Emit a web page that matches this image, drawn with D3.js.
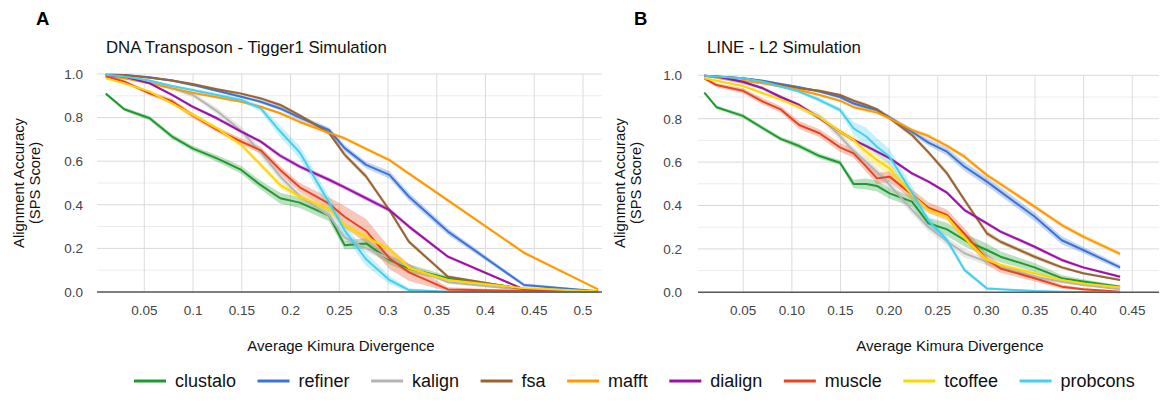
<!DOCTYPE html>
<html>
<head>
<meta charset="utf-8">
<script src="https://cdn.jsdelivr.net/npm/d3@7"></script>
<style>
  body { margin: 0; background: #fff; }
  svg { display: block; font-family: Arial, "Liberation Sans", sans-serif; }
</style>
</head>
<body>
<svg id="chart" width="1162" height="402"></svg>
<script>
// methods, in legend order
const methods = ['clustalo', 'refiner', 'kalign', 'fsa', 'mafft', 'dialign', 'muscle', 'tcoffee', 'probcons'];
const colors = ['#1f9a2f', '#3c74d6', '#b5b5b5', '#9a6431', '#ff9900', '#9b12a6', '#e8441f', '#ffd600', '#45cff0'];

const yTicks = [0, 0.2, 0.4, 0.6, 0.8, 1.0];
const yTickLabels = ['0.0', '0.2', '0.4', '0.6', '0.8', '1.0'];
const yGrid = [0.1, 0.2, 0.3, 0.4, 0.5, 0.6, 0.7, 0.8, 0.9, 1.0];

// ---- panel A : DNA Transposon - Tigger1
const aTicks = [0.05, 0.1, 0.15, 0.2, 0.25, 0.3, 0.35, 0.4, 0.45, 0.5];
const aTickLabels = ['0.05', '0.1', '0.15', '0.2', '0.25', '0.3', '0.35', '0.4', '0.45', '0.5'];
const aX = [0.011, 0.03, 0.056, 0.079, 0.1, 0.125, 0.15, 0.17, 0.19, 0.21, 0.24, 0.256, 0.278, 0.302, 0.322, 0.362, 0.44, 0.516];

const aClustalo = [0.91, 0.838, 0.797, 0.713, 0.659, 0.613, 0.56, 0.49, 0.43, 0.41, 0.35, 0.215, 0.223, 0.147, 0.108, 0.063, 0.015, 0.003];
const aRefiner  = [0.997, 0.995, 0.985, 0.97, 0.95, 0.923, 0.896, 0.873, 0.842, 0.80, 0.743, 0.66, 0.583, 0.537, 0.437, 0.277, 0.032, 0.004];
const aKalign   = [0.997, 0.99, 0.965, 0.934, 0.905, 0.83, 0.74, 0.64, 0.53, 0.44, 0.35, 0.25, 0.2, 0.155, 0.115, 0.045, 0.01, 0.002];
const aFsa      = [0.997, 0.995, 0.983, 0.97, 0.954, 0.93, 0.91, 0.888, 0.858, 0.81, 0.73, 0.63, 0.53, 0.375, 0.23, 0.07, 0.012, 0.002];
const aMafft    = [0.988, 0.98, 0.957, 0.934, 0.914, 0.893, 0.873, 0.85, 0.82, 0.78, 0.73, 0.705, 0.657, 0.605, 0.543, 0.42, 0.18, 0.012];
const aDialign  = [0.995, 0.988, 0.957, 0.904, 0.85, 0.797, 0.736, 0.69, 0.625, 0.575, 0.515, 0.48, 0.43, 0.376, 0.30, 0.162, 0.012, 0.004];
const aMuscle   = [0.99, 0.965, 0.911, 0.875, 0.81, 0.745, 0.69, 0.65, 0.56, 0.48, 0.405, 0.345, 0.28, 0.155, 0.09, 0.012, 0.004, 0.001];
const aTcoffee  = [0.98, 0.957, 0.919, 0.865, 0.812, 0.751, 0.675, 0.583, 0.49, 0.438, 0.38, 0.306, 0.253, 0.195, 0.11, 0.055, 0.017, 0.003];
const aProbcons = [0.997, 0.988, 0.97, 0.945, 0.927, 0.904, 0.881, 0.842, 0.736, 0.64, 0.41, 0.283, 0.15, 0.055, 0.009, 0.001, 0.0, 0.0];

// half width of the shaded band
const aClustaloErr = [0.005, 0.008, 0.01, 0.012, 0.012, 0.015, 0.018, 0.02, 0.025, 0.025, 0.025, 0.02, 0.025, 0.02, 0.02, 0.01, 0.005, 0.002];
const aRefinerErr  = [0.002, 0.003, 0.004, 0.005, 0.005, 0.006, 0.006, 0.008, 0.01, 0.012, 0.012, 0.015, 0.015, 0.018, 0.018, 0.015, 0.008, 0.002];
const aKalignErr   = [0.003, 0.005, 0.008, 0.01, 0.012, 0.015, 0.02, 0.02, 0.02, 0.02, 0.02, 0.02, 0.018, 0.015, 0.012, 0.008, 0.004, 0.002];
const aFsaErr      = [0.002, 0.003, 0.004, 0.005, 0.005, 0.006, 0.006, 0.006, 0.008, 0.008, 0.01, 0.012, 0.012, 0.012, 0.01, 0.008, 0.004, 0.002];
const aMafftErr    = [0.003, 0.004, 0.005, 0.005, 0.005, 0.006, 0.006, 0.006, 0.007, 0.008, 0.008, 0.008, 0.008, 0.008, 0.008, 0.008, 0.008, 0.004];
const aDialignErr  = [0.003, 0.004, 0.005, 0.006, 0.007, 0.008, 0.008, 0.008, 0.01, 0.01, 0.01, 0.01, 0.01, 0.01, 0.01, 0.008, 0.004, 0.002];
const aMuscleErr   = [0.005, 0.008, 0.01, 0.012, 0.012, 0.012, 0.015, 0.015, 0.018, 0.02, 0.03, 0.05, 0.055, 0.05, 0.04, 0.01, 0.004, 0.002];
const aTcoffeeErr  = [0.004, 0.005, 0.006, 0.008, 0.01, 0.01, 0.012, 0.012, 0.015, 0.015, 0.015, 0.015, 0.015, 0.012, 0.01, 0.008, 0.004, 0.002];
const aProbconsErr = [0.002, 0.003, 0.004, 0.005, 0.006, 0.008, 0.01, 0.015, 0.025, 0.03, 0.03, 0.03, 0.03, 0.02, 0.008, 0.003, 0.001, 0.001];

// ---- panel B : LINE - L2
const bTicks = [0.05, 0.1, 0.15, 0.2, 0.25, 0.3, 0.35, 0.4, 0.45];
const bTickLabels = ['0.05', '0.10', '0.15', '0.20', '0.25', '0.30', '0.35', '0.40', '0.45'];
const bX = [0.0105, 0.023, 0.05, 0.0707, 0.089, 0.108, 0.129, 0.15, 0.164, 0.177, 0.188, 0.201, 0.224, 0.241, 0.26, 0.278, 0.301, 0.315, 0.35, 0.378, 0.4, 0.438];

const bClustalo = [0.92, 0.853, 0.813, 0.756, 0.707, 0.674, 0.628, 0.597, 0.499, 0.499, 0.49, 0.456, 0.418, 0.318, 0.29, 0.241, 0.195, 0.164, 0.115, 0.065, 0.05, 0.026];
const bRefiner  = [0.998, 0.995, 0.986, 0.975, 0.96, 0.945, 0.925, 0.9, 0.87, 0.853, 0.84, 0.806, 0.74, 0.69, 0.648, 0.579, 0.51, 0.464, 0.349, 0.24, 0.195, 0.115];
const bKalign   = [0.998, 0.99, 0.966, 0.94, 0.9, 0.855, 0.81, 0.72, 0.65, 0.6, 0.555, 0.495, 0.38, 0.3, 0.235, 0.18, 0.14, 0.118, 0.072, 0.049, 0.034, 0.014];
const bFsa      = [0.998, 0.995, 0.986, 0.972, 0.955, 0.94, 0.929, 0.909, 0.883, 0.863, 0.843, 0.802, 0.725, 0.645, 0.548, 0.425, 0.272, 0.233, 0.164, 0.115, 0.088, 0.057];
const bMafft    = [0.997, 0.99, 0.975, 0.963, 0.948, 0.932, 0.909, 0.883, 0.853, 0.84, 0.828, 0.802, 0.748, 0.72, 0.675, 0.625, 0.54, 0.499, 0.395, 0.31, 0.257, 0.177];
const bDialign  = [0.998, 0.994, 0.97, 0.94, 0.9, 0.863, 0.802, 0.74, 0.702, 0.674, 0.648, 0.618, 0.548, 0.51, 0.459, 0.379, 0.318, 0.28, 0.21, 0.149, 0.115, 0.072];
const bMuscle   = [0.986, 0.955, 0.929, 0.879, 0.843, 0.771, 0.733, 0.668, 0.64, 0.579, 0.525, 0.533, 0.45, 0.39, 0.357, 0.27, 0.15, 0.11, 0.065, 0.026, 0.014, 0.003];
const bTcoffee  = [0.986, 0.975, 0.951, 0.917, 0.889, 0.855, 0.806, 0.74, 0.702, 0.648, 0.61, 0.571, 0.449, 0.38, 0.349, 0.25, 0.15, 0.126, 0.088, 0.057, 0.041, 0.023];
const bProbcons = [0.998, 0.994, 0.986, 0.97, 0.948, 0.925, 0.886, 0.84, 0.755, 0.718, 0.671, 0.625, 0.46, 0.33, 0.241, 0.103, 0.018, 0.014, 0.006, 0.003, 0.001, 0.0];

const bClustaloErr = [0.005, 0.008, 0.01, 0.01, 0.01, 0.012, 0.012, 0.012, 0.02, 0.025, 0.025, 0.025, 0.025, 0.025, 0.03, 0.03, 0.03, 0.025, 0.02, 0.015, 0.01, 0.006];
const bRefinerErr  = [0.002, 0.003, 0.004, 0.005, 0.005, 0.006, 0.006, 0.008, 0.01, 0.01, 0.01, 0.01, 0.012, 0.015, 0.018, 0.02, 0.02, 0.02, 0.02, 0.018, 0.015, 0.012];
const bKalignErr   = [0.003, 0.005, 0.008, 0.01, 0.012, 0.015, 0.015, 0.018, 0.02, 0.02, 0.02, 0.02, 0.02, 0.02, 0.02, 0.02, 0.015, 0.012, 0.01, 0.008, 0.005, 0.003];
const bFsaErr      = [0.002, 0.003, 0.004, 0.005, 0.005, 0.006, 0.006, 0.006, 0.008, 0.008, 0.008, 0.008, 0.01, 0.01, 0.012, 0.012, 0.012, 0.01, 0.01, 0.008, 0.006, 0.005];
const bMafftErr    = [0.003, 0.004, 0.005, 0.005, 0.005, 0.006, 0.006, 0.006, 0.007, 0.008, 0.008, 0.008, 0.008, 0.01, 0.01, 0.01, 0.01, 0.01, 0.01, 0.01, 0.01, 0.01];
const bDialignErr  = [0.003, 0.004, 0.005, 0.006, 0.007, 0.008, 0.008, 0.008, 0.008, 0.008, 0.008, 0.008, 0.008, 0.008, 0.008, 0.008, 0.008, 0.008, 0.008, 0.008, 0.006, 0.006];
const bMuscleErr   = [0.006, 0.01, 0.012, 0.015, 0.015, 0.018, 0.018, 0.02, 0.02, 0.025, 0.025, 0.025, 0.025, 0.025, 0.025, 0.025, 0.025, 0.02, 0.015, 0.01, 0.006, 0.003];
const bTcoffeeErr  = [0.004, 0.005, 0.006, 0.008, 0.01, 0.01, 0.012, 0.015, 0.02, 0.03, 0.03, 0.03, 0.02, 0.015, 0.015, 0.015, 0.012, 0.01, 0.008, 0.006, 0.005, 0.004];
const bProbconsErr = [0.002, 0.003, 0.004, 0.005, 0.006, 0.008, 0.01, 0.012, 0.03, 0.04, 0.04, 0.035, 0.03, 0.02, 0.015, 0.012, 0.008, 0.005, 0.003, 0.002, 0.001, 0.001];

const svg = d3.select('#chart');

function drawPanel(p) {
    const x = d3.scaleLinear().domain(p.xDomain).range(p.xRange);
    const y = d3.scaleLinear().domain([0, 1]).range(p.yRange);
    const g = svg.append('g');

    // horizontal grid
    g.selectAll('line.hgrid')
        .data(yGrid)
        .enter()
        .append('line')
        .attr('x1', p.xRange[0]).attr('x2', p.xRange[1])
        .attr('y1', d => y(d)).attr('y2', d => y(d))
        .attr('stroke', (d, i) => i % 2 === 1 ? '#d9d9d9' : '#ececec')
        .attr('stroke-width', 1);

    // vertical grid + tick labels
    const xAxis = d3.axisBottom(x)
        .tickValues(p.ticks)
        .tickSize(-(p.yRange[0] - p.yRange[1]))
        .tickPadding(13)
        .tickFormat((d, i) => p.tickLabels[i]);
    const ax = g.append('g')
        .attr('transform', 'translate(0,' + p.yRange[0] + ')')
        .call(xAxis);
    ax.select('.domain').remove();
    ax.selectAll('.tick line').attr('stroke', '#dcdcdc');
    ax.selectAll('.tick text')
        .attr('fill', '#444')
        .style('font-size', '13.5px')
        .style('font-family', 'Arial, "Liberation Sans", sans-serif');

    const yAxis = d3.axisLeft(y)
        .tickValues(yTicks)
        .tickSize(0)
        .tickPadding(p.xRange[0] - p.yLabelRight)
        .tickFormat((d, i) => yTickLabels[i]);
    const ay = g.append('g')
        .attr('transform', 'translate(' + p.xRange[0] + ',0)')
        .call(yAxis);
    ay.select('.domain').remove();
    ay.selectAll('.tick text')
        .attr('fill', '#444')
        .style('font-size', '13.5px')
        .style('font-family', 'Arial, "Liberation Sans", sans-serif');

    // bands then lines
    const area = d3.area()
        .x(d => x(d.x))
        .y0(d => y(Math.max(0, d.v - d.e)))
        .y1(d => y(Math.min(1, d.v + d.e)));
    const line = d3.line()
        .x(d => x(d.x))
        .y(d => y(d.v));

    const rows = p.series.map((vals, s) => vals.map((v, i) => ({ x: p.xs[i], v: v, e: p.errs[s][i] })));

    g.selectAll('path.band')
        .data(rows)
        .enter()
        .append('path')
        .attr('d', area)
        .attr('fill', (d, i) => colors[i])
        .attr('fill-opacity', 0.3);

    g.selectAll('path.series')
        .data(rows)
        .enter()
        .append('path')
        .attr('d', line)
        .attr('fill', 'none')
        .attr('stroke', (d, i) => colors[i])
        .attr('stroke-width', 2)
        .attr('stroke-linejoin', 'round');

    // baseline
    g.append('line')
        .attr('x1', p.xRange[0]).attr('x2', p.xRange[1])
        .attr('y1', y(0)).attr('y2', y(0))
        .attr('stroke', '#555')
        .attr('stroke-width', 1.5);

    // texts
    g.append('text')
        .attr('x', p.letterX).attr('y', 25)
        .style('font-size', '18.5px')
        .style('font-weight', 'bold')
        .text(p.letter);
    g.append('text')
        .attr('x', p.titleX).attr('y', 53)
        .style('font-size', '16.8px')
        .attr('fill', '#111')
        .text(p.title);
    g.append('text')
        .attr('x', p.xTitleX).attr('y', 351)
        .attr('text-anchor', 'middle')
        .style('font-size', '15px')
        .attr('fill', '#111')
        .text('Average Kimura Divergence');
    const yt = g.append('text')
        .attr('transform', 'translate(' + p.yTitleX + ',183) rotate(-90)')
        .attr('text-anchor', 'middle')
        .style('font-size', '14.8px')
        .attr('fill', '#111');
    yt.append('tspan').attr('x', 0).attr('y', 0).text('Alignment Accuracy');
    yt.append('tspan').attr('x', 0).attr('y', 15.5).text('(SPS Score)');
}

drawPanel({
    letter: 'A', letterX: 36, title: 'DNA Transposon - Tigger1 Simulation', titleX: 106,
    xDomain: [0.002, 0.52], xRange: [97, 602], yRange: [292, 74], yLabelRight: 83,
    ticks: aTicks, tickLabels: aTickLabels, xs: aX, xTitleX: 341, yTitleX: 24,
    series: [aClustalo, aRefiner, aKalign, aFsa, aMafft, aDialign, aMuscle, aTcoffee, aProbcons],
    errs: [aClustaloErr, aRefinerErr, aKalignErr, aFsaErr, aMafftErr, aDialignErr, aMuscleErr, aTcoffeeErr, aProbconsErr]
});

drawPanel({
    letter: 'B', letterX: 634, title: 'LINE - L2 Simulation', titleX: 707,
    xDomain: [0.004, 0.478], xRange: [698, 1159], yRange: [292.3, 75.3], yLabelRight: 682,
    ticks: bTicks, tickLabels: bTickLabels, xs: bX, xTitleX: 950, yTitleX: 625,
    series: [bClustalo, bRefiner, bKalign, bFsa, bMafft, bDialign, bMuscle, bTcoffee, bProbcons],
    errs: [bClustaloErr, bRefinerErr, bKalignErr, bFsaErr, bMafftErr, bDialignErr, bMuscleErr, bTcoffeeErr, bProbconsErr]
});

// legend along the bottom
const legend = svg.append('g');
let lx = 134;
methods.forEach((m, i) => {
    legend.append('line')
        .attr('x1', lx).attr('x2', lx + 32)
        .attr('y1', 381).attr('y2', 381)
        .attr('stroke', colors[i])
        .attr('stroke-width', 3);
    const t = legend.append('text')
        .attr('x', lx + 41).attr('y', 387)
        .style('font-size', '18px')
        .attr('fill', '#111')
        .text(m);
    lx += 41 + t.node().getComputedTextLength() + 21.5;
});
</script>
</body>
</html>
